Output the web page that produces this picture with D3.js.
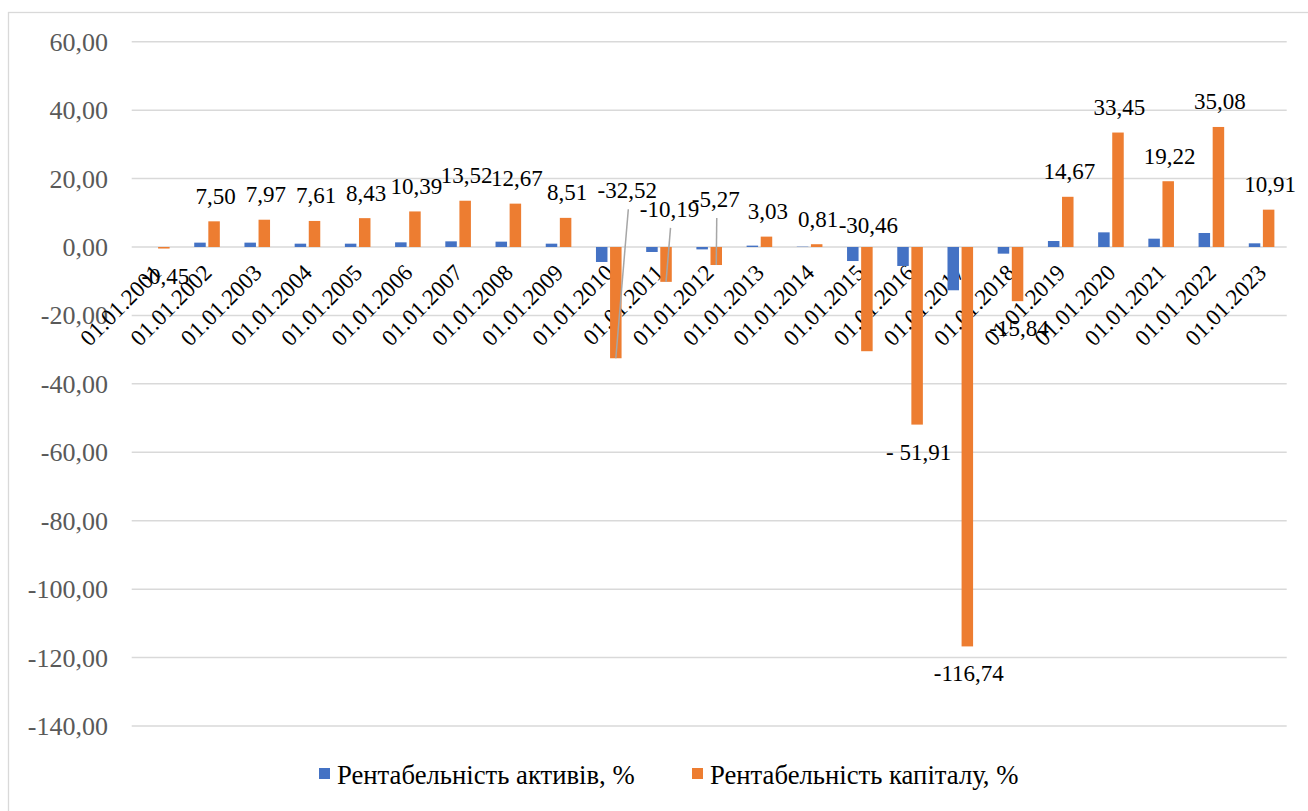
<!DOCTYPE html>
<html>
<head>
<meta charset="utf-8">
<script src="https://cdn.jsdelivr.net/npm/d3@7"></script>
</head>
<body style="margin:0">
<svg id="chart" width="1308" height="811" font-family="Liberation Serif, Tinos, serif"></svg>
<script>
// Profitability of assets and equity by date, %
const categories = [
  "01.01.2001", "01.01.2002", "01.01.2003", "01.01.2004", "01.01.2005", "01.01.2006",
  "01.01.2007", "01.01.2008", "01.01.2009", "01.01.2010", "01.01.2011", "01.01.2012",
  "01.01.2013", "01.01.2014", "01.01.2015", "01.01.2016", "01.01.2017", "01.01.2018",
  "01.01.2019", "01.01.2020", "01.01.2021", "01.01.2022", "01.01.2023"
];
const seriesNames = ["Рентабельність активів, %", "Рентабельність капіталу, %"];
const returnOnAssets = [
  0.00, 1.27, 1.27, 0.97, 0.97, 1.36, 1.65, 1.56, 0.97, -4.38, -1.46, -0.70,
  0.40, 0.10, -4.10, -5.55, -12.65, -1.95, 1.75, 4.28, 2.43, 4.09, 1.07
];
const returnOnEquity = [
  -0.45, 7.50, 7.97, 7.61, 8.43, 10.39, 13.52, 12.67, 8.51, -32.52, -10.19, -5.27,
  3.03, 0.81, -30.46, -51.91, -116.74, -15.84, 14.67, 33.45, 19.22, 35.08, 10.91
];
const yTicks = [60, 40, 20, 0, -20, -40, -60, -80, -100, -120, -140];

// Hand-placed data labels: pixel shift from the default spot, and leader lines
const labelShift = {
  "01.01.2010": { dx: 10, dy: -195, leader: true },
  "01.01.2011": { dx: 2, dy: -100, leader: true },
  "01.01.2012": { dx: -2, dy: -93, leader: true },
  "01.01.2015": { dx: 0, dy: -153, leader: false }
};
const labelTextOverride = { "01.01.2016": "- 51,91" };

const colors = ["#4472C4", "#ED7D31"];
const FONT = "Liberation Serif, Tinos, serif";

const svg = d3.select("#chart");
const plot = { left: 131.7, right: 1286.7, top: 41.7, bottom: 726 };

// chart area frame
svg.append("rect")
  .attr("x", 8.5).attr("y", 12.5)
  .attr("width", 1320).attr("height", 820)
  .attr("fill", "#fff").attr("stroke", "#d9d9d9").attr("stroke-width", 1.3);

const x0 = d3.scaleBand().domain(categories).range([plot.left, plot.right]);
const x1 = d3.scaleBand().domain([0, 1])
  .range([x0.bandwidth() / 2 - 12.8, x0.bandwidth() / 2 + 12.8]).paddingInner(0.184);
const y = d3.scaleLinear().domain([-140, 60]).range([plot.bottom, plot.top]);

const fmt = v => d3.format(".2f")(v).replace(".", ",").replace("−", "-");

// gridlines
yTicks.forEach(t => {
  svg.append("line")
    .attr("x1", plot.left).attr("x2", plot.right)
    .attr("y1", y(t)).attr("y2", y(t))
    .attr("stroke", "#d9d9d9").attr("stroke-width", 1.5);
});

function serifText(sel, size) {
  return sel.attr("font-family", FONT).style("font-family", FONT)
    .attr("font-size", size).style("font-size", size + "px");
}

// y axis labels
serifText(svg.selectAll("text.ytick").data(yTicks).join("text"), 26)
  .attr("class", "ytick")
  .attr("x", 108).attr("y", d => y(d) + 9)
  .attr("text-anchor", "end")
  .attr("fill", "#595959")
  .text(d => fmt(d));

// x axis labels, rotated
serifText(svg.selectAll("text.xtick").data(categories).join("text"), 23)
  .attr("class", "xtick")
  .attr("transform", d => `translate(${x0(d) + x0.bandwidth() / 2 + 6},274) rotate(-45)`)
  .attr("text-anchor", "end")
  .attr("fill", "#000")
  .text(d => d);

// bars
const seriesValues = [returnOnAssets, returnOnEquity];
seriesValues.forEach((vals, s) => {
  categories.forEach((c, i) => {
    svg.append("rect")
      .attr("x", x0(c) + x1(s))
      .attr("width", x1.bandwidth())
      .attr("y", y(Math.max(0, vals[i])))
      .attr("height", Math.abs(y(vals[i]) - y(0)))
      .attr("fill", colors[s]);
  });
});

// data labels for equity series
const labels = categories.map((c, i) => {
  const v = returnOnEquity[i];
  const cx = x0(c) + x1(1) + x1.bandwidth() / 2;
  let lx = cx + 1.5;
  let ly = v >= 0 ? y(v) - 17.5 : y(v) + 35;
  const shift = labelShift[c];
  if (shift) { lx += shift.dx; ly += shift.dy; }
  return { c, v, cx, lx, ly, shift, text: labelTextOverride[c] || fmt(v) };
});

labels.filter(d => d.shift && d.shift.leader).forEach(d => {
  svg.append("line")
    .attr("x1", d.lx + 1).attr("y1", d.ly + 11)
    .attr("x2", d.cx).attr("y2", y(d.v))
    .attr("stroke", "#a6a6a6").attr("stroke-width", 1.5);
});

serifText(svg.selectAll("text.dlabel").data(labels).join("text"), 23)
  .attr("class", "dlabel")
  .attr("x", d => d.lx).attr("y", d => d.ly)
  .attr("text-anchor", "middle")
  .attr("fill", "#000")
  .text(d => d.text);

// legend
const legendItems = [
  { name: seriesNames[0], color: colors[0], x: 319 },
  { name: seriesNames[1], color: colors[1], x: 692 }
];
legendItems.forEach(it => {
  svg.append("rect").attr("x", it.x).attr("y", 768).attr("width", 11).attr("height", 11)
    .attr("fill", it.color);
  serifText(svg.append("text"), 26.7)
    .attr("x", it.x + 18).attr("y", 784)
    .attr("fill", "#000")
    .text(it.name);
});
</script>
</body>
</html>
